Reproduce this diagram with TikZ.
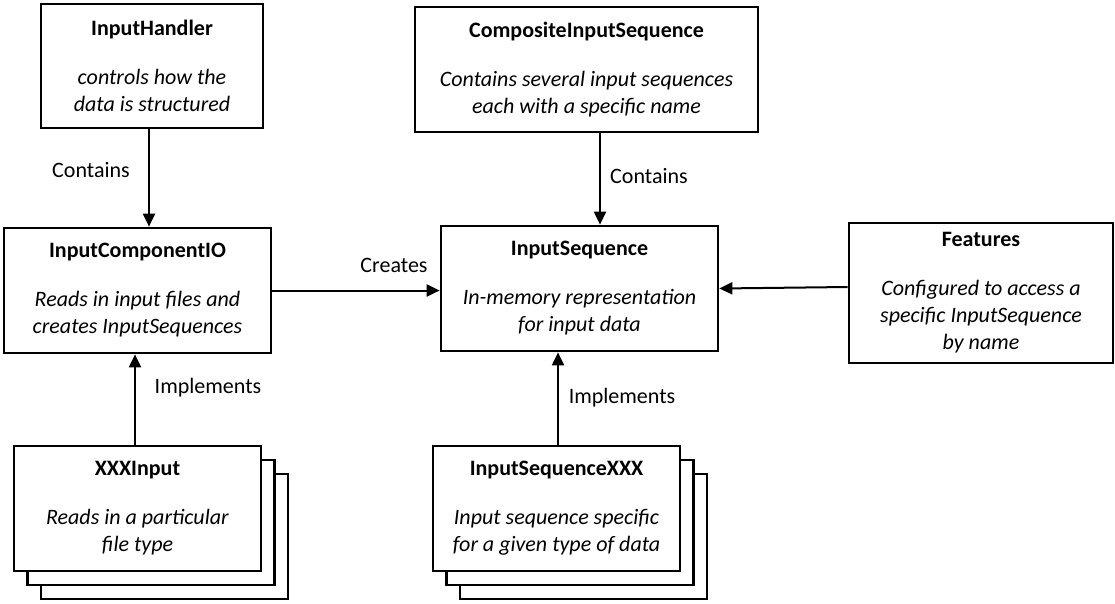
\documentclass[tikz,border=0pt]{standalone}
\usepackage{fontspec}
\setmainfont{Carlito}
\usepackage{tikz}
\usetikzlibrary{arrows.meta}
\tikzstyle{box}=[draw, line width=2.7pt, fill=white, align=center, inner sep=0pt, font=\fontsize{22}{27}\selectfont]
\tikzstyle{smallbox}=[box, minimum width=247pt, minimum height=125pt]
\tikzstyle{label}=[font=\fontsize{22}{27}\selectfont]
\tikzstyle{arrow}=[line width=2pt, -{Triangle[length=13pt,width=12pt]}]

\begin{document}
\begin{tikzpicture}[x=1pt, y=-1pt]
		   \useasboundingbox (0,0) rectangle (1115,603);
		   \begin{scope}
			   \node (handler) at (152, 66)[box, minimum width=222pt, minimum height=124pt] {\textbf{InputHandler}\\[22pt]\textit{controls how the}\\\textit{data is structured}};
			   \node (composite) at (586.5, 69.5)[box, minimum width=343pt, minimum height=125pt] {\textbf{CompositeInputSequence}\\[22pt]\textit{Contains several input sequences}\\\textit{each with a specific name}};
			   \node (compio) at (137.5, 290.5)[box, minimum width=267pt, minimum height=125pt] {\textbf{InputComponentIO}\\[22pt]\textit{Reads in input files and}\\\textit{creates InputSequences}};
			   \node (seq) at (579.5, 288.5)[box, minimum width=277pt, minimum height=125pt] {\textbf{InputSequence}\\[22pt]\textit{In-memory representation}\\\textit{for input data}};
			   \node (feat) at (981, 293)[box, minimum width=264pt, minimum height=140pt] {\textbf{Features}\\[22pt]\textit{Configured to access a}\\\textit{specific InputSequence}\\\textit{by name}};
			   \node (xxxc) at (164.5, 536.5)[smallbox] {};
			   \node (xxxb) at (151, 522.5)[smallbox] {};
			   \node (xxx) at (137.5, 508.5)[smallbox] {\textbf{XXXInput}\\[22pt]\textit{Reads in a particular}\\\textit{file type}};
			   \node (seqxxxc) at (583.5, 536.5)[smallbox] {};
			   \node (seqxxxb) at (570, 522.5)[smallbox] {};
			   \node (seqxxx) at (556.5, 508.5)[smallbox] {\textbf{InputSequenceXXX}\\[22pt]\textit{Input sequence specific}\\\textit{for a given type of data}};
		   \end{scope}
		   \begin{scope}
			   \path [arrow] ([xshift=-3pt]handler.south) edge ([xshift=-3pt]handler.south |- compio.north);
			   \path [arrow] ([xshift=13.5pt]composite.south) edge ([xshift=13.5pt]composite.south |- seq.north);
			   \path [arrow] (compio.east) edge (compio.east -| seq.west);
			   \path [arrow] ([yshift=6pt]feat.west) edge (seq.east);
			   \path [arrow] ([xshift=-2.5pt]xxx.north) edge ([xshift=-2.5pt]xxx.north |- compio.south);
			   \path [arrow] ([xshift=1.5pt]seqxxx.north) edge ([xshift=1.5pt]seqxxx.north |- seq.south);
		   \end{scope}
		   \begin{scope}
			   \node (contains1) at (91, 170)[label] {Contains};
			   \node (contains2) at (649, 176)[label] {Contains};
			   \node (creates) at (394, 265)[label] {Creates};
			   \node (implements1) at (208, 388)[label] {Implements};
			   \node (implements2) at (622, 398)[label] {Implements};
		   \end{scope}
	   \end{tikzpicture}
\end{document}
